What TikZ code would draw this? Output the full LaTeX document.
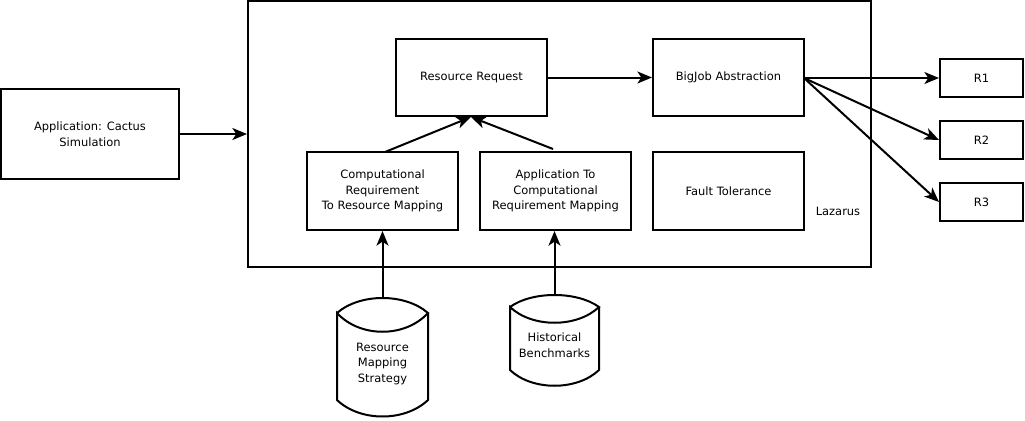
\documentclass[tikz,border=0pt]{standalone}
\usepackage{fontspec}
\setmainfont{DejaVu Sans}
\usetikzlibrary{arrows.meta}
\begin{document}
\begin{tikzpicture}[x=0.75pt,y=-0.75pt,
  box/.style={draw,line width=1.5pt,inner sep=0pt},
  lbl/.style={font=\fontsize{8.6pt}{11.6pt}\selectfont,align=center},
  arr/.style={line width=1.5pt,-{Stealth[length=11pt,width=9pt,inset=3pt]}},
  cyl/.style={line width=1.5pt}]
\useasboundingbox (0,0) rectangle (1025,421);
% boxes
\node[box,minimum width=178*0.75pt,minimum height=90*0.75pt] (app) at (90,134) {};
\node[lbl] at (app.center) {Application: Cactus\\Simulation};
\node[box,minimum width=623*0.75pt,minimum height=266*0.75pt] (laz) at (559.5,134) {};
\node[lbl] (lazl) at (838,211) {Lazarus};
\node[box,minimum width=151*0.75pt,minimum height=77*0.75pt,lbl] (rr) at (471.5,77.5) {Resource Request};
\node[box,minimum width=151*0.75pt,minimum height=77*0.75pt,lbl] (bj) at (728.5,77.5) {BigJob Abstraction};
\node[box,minimum width=151*0.75pt,minimum height=78*0.75pt,lbl] (crm) at (382.5,191) {Computational\\Requirement\\To Resource Mapping};
\node[box,minimum width=151*0.75pt,minimum height=78*0.75pt,lbl] (acm) at (555.5,191) {Application To\\Computational\\Requirement Mapping};
\node[box,minimum width=151*0.75pt,minimum height=78*0.75pt,lbl] (ft) at (728.5,191) {Fault Tolerance};
\node[box,minimum width=83*0.75pt,minimum height=38*0.75pt,lbl] (r1) at (981.5,78) {R1};
\node[box,minimum width=83*0.75pt,minimum height=38*0.75pt,lbl] (r2) at (981.5,140) {R2};
\node[box,minimum width=83*0.75pt,minimum height=38*0.75pt,lbl] (r3) at (981.5,202) {R3};
% cylinders
\draw[cyl] (337,313) .. controls (360,293) and (405,293) .. (428,313)
  .. controls (405,338) and (360,338) .. (337,313) -- (337,400)
  .. controls (360,422) and (405,422) .. (428,400) -- (428,313);
\coordinate (c1) at (382.5,299);
\node[lbl] (c1t) at (382.5,364) {Resource\\Mapping\\Strategy};
\draw[cyl] (510,307) .. controls (532,291) and (577,291) .. (599,307)
  .. controls (577,328) and (532,328) .. (510,307) -- (510,370)
  .. controls (532,391) and (577,391) .. (599,370) -- (599,307);
\coordinate (c2) at (554.5,295);
\node[lbl] (c2t) at (554.5,345) {Historical\\Benchmarks};
% connectors
\draw[arr] (app.east) -- (app.east -| laz.west);
\draw[arr] (rr.east) -- (bj.west);
\draw[arr] (c1) -- (c1 |- crm.south);
\draw[arr] (c2) -- (c2 |- acm.south);
\coordinate (rrin) at (471,117);
\draw[arr] (385,152) -- (rrin);
\draw[arr] (553,149) -- (rrin);
\coordinate (bjo) at (804,78);
\draw[arr] (bjo) -- (r1.west);
\draw[arr] (bjo) -- (r2.west);
\draw[arr] (bjo) -- (r3.west);
\end{tikzpicture}
\end{document}
